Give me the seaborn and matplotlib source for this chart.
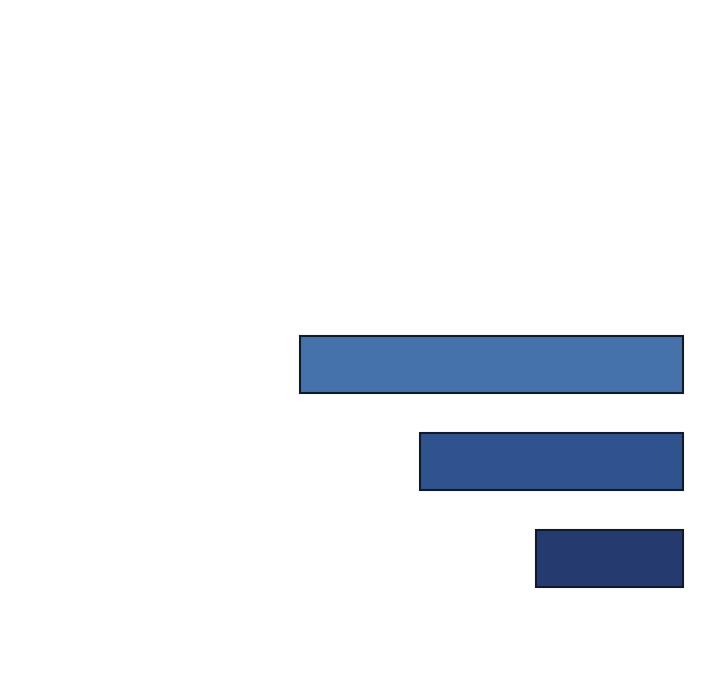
import pandas as pd
import matplotlib.pyplot as plt
import seaborn as sns

# three stacked bars, no labels in the picture
categories = ['top', 'middle', 'bottom']
values = [100, 68.7, 38.4]
colors = ['#4672ab', '#2f538f', '#253b70']

df = pd.DataFrame({'category': categories, 'value': values})

sns.set_style('white')
fig = plt.figure(figsize=(7.2, 7.0), dpi=100)
ax = fig.add_axes([0, 0, 1, 1])

sns.barplot(data=df, x='value', y='category', hue='category', palette=colors,
            orient='h', width=0.59, edgecolor='#111a2c', linewidth=1.5,
            saturation=1, legend=False, ax=ax)

# bars grow leftwards from the right edge
scale = 383 / 100
ax.set_xlim(683 / scale, -37 / scale)
ax.set_ylim(2 + (700 - 558.5) / 97, -364.5 / 97)
ax.axis('off')

plt.savefig('out.png', dpi=100)
plt.close()
